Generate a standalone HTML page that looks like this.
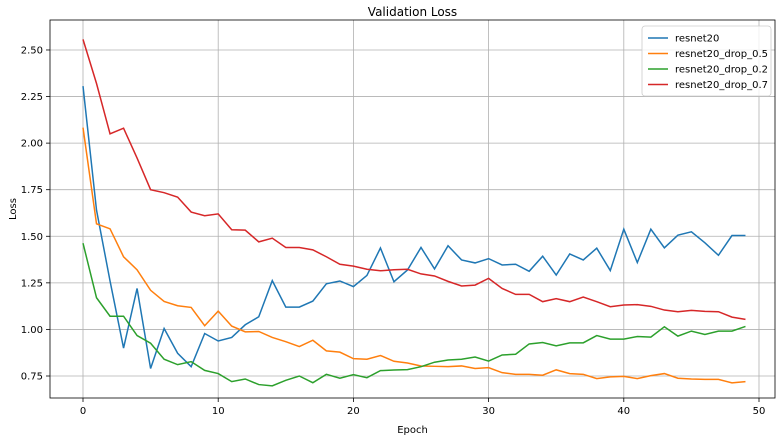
<!DOCTYPE html>
<html><head><meta charset="utf-8"><style>
body{margin:0;background:#fff;}
svg{display:block;font-family:"DejaVu Sans","Liberation Sans",sans-serif;}
</style></head><body>
<svg id="chart" width="783" height="441"></svg>
<script>
const epochs = Array.from({length:50},(_,i)=>i);
const resnet20 = [2.306,1.64,1.26,0.90,1.22,0.79,1.005,0.872,0.80,0.978,0.938,0.957,1.025,1.068,1.262,1.12,1.12,1.152,1.245,1.26,1.23,1.29,1.437,1.256,1.319,1.44,1.325,1.449,1.373,1.357,1.38,1.346,1.35,1.312,1.393,1.292,1.405,1.373,1.436,1.316,1.538,1.359,1.538,1.438,1.506,1.524,1.465,1.398,1.504,1.504];
const drop05 = [2.083,1.567,1.54,1.39,1.32,1.21,1.15,1.127,1.118,1.02,1.098,1.018,0.987,0.989,0.957,0.934,0.908,0.942,0.885,0.878,0.843,0.84,0.86,0.829,0.82,0.804,0.802,0.80,0.804,0.79,0.795,0.768,0.759,0.759,0.754,0.783,0.763,0.759,0.736,0.745,0.748,0.736,0.752,0.763,0.738,0.734,0.732,0.732,0.713,0.72];
const drop02 = [1.463,1.17,1.071,1.071,0.967,0.926,0.84,0.811,0.827,0.78,0.763,0.72,0.734,0.704,0.697,0.727,0.75,0.714,0.759,0.738,0.757,0.741,0.779,0.782,0.784,0.80,0.824,0.836,0.84,0.852,0.83,0.863,0.867,0.922,0.93,0.912,0.928,0.928,0.967,0.948,0.948,0.962,0.959,1.014,0.964,0.991,0.973,0.991,0.991,1.016];
const drop07 = [2.557,2.32,2.05,2.08,1.92,1.75,1.734,1.71,1.63,1.61,1.62,1.535,1.533,1.47,1.49,1.44,1.44,1.427,1.39,1.35,1.34,1.323,1.315,1.32,1.323,1.298,1.287,1.258,1.233,1.238,1.274,1.22,1.188,1.188,1.149,1.165,1.149,1.174,1.149,1.122,1.131,1.133,1.124,1.104,1.095,1.102,1.097,1.095,1.066,1.054];
const xTicks = [0,10,20,30,40,50];
const yTicks = [0.75,1.00,1.25,1.50,1.75,2.00,2.25,2.50];
const seriesNames = ["resnet20","resnet20_drop_0.5","resnet20_drop_0.2","resnet20_drop_0.7"];
const seriesColors = ["#1f77b4","#ff7f0e","#2ca02c","#d62728"];

const svg = document.getElementById('chart');
const NS='http://www.w3.org/2000/svg';
const L=50,R=775,T=20,B=398;
const xs = v => 83 + v*13.52;
const ys = v => 376 - (v-0.75)*186.3;
function mk(tag, attrs, parent){const e=document.createElementNS(NS,tag);for(const k in attrs)e.setAttribute(k,attrs[k]);(parent||svg).appendChild(e);return e;}

xTicks.forEach(t=>{
  const g=mk('g',{});
  
  
  mk('line',{x1:xs(t),x2:xs(t),y1:T,y2:B,stroke:'#b0b0b0','stroke-width':0.8},g);
  mk('line',{x1:xs(t),x2:xs(t),y1:B,y2:B+4,stroke:'#000','stroke-width':0.8},g);
  const tx=mk('text',{x:xs(t),y:B+16,'text-anchor':'middle','font-size':10},g);tx.textContent=t;
});
yTicks.forEach(t=>{
  const g=mk('g',{});
  
  
  mk('line',{x1:L,x2:R,y1:ys(t),y2:ys(t),stroke:'#b0b0b0','stroke-width':0.8},g);
  mk('line',{x1:L-4,x2:L,y1:ys(t),y2:ys(t),stroke:'#000','stroke-width':0.8},g);
  const tx=mk('text',{x:L-7,y:ys(t)+3.5,'text-anchor':'end','font-size':10},g);tx.textContent=t.toFixed(2);
});
[resnet20,drop05,drop02,drop07].forEach((data,i)=>{
  const p=mk('polyline',{points:data.map((v,j)=>xs(epochs[j])+','+ys(v)).join(' '),fill:'none',stroke:seriesColors[i],'stroke-width':1.5});
  
  
});
const frame=mk('rect',{x:L,y:T,width:R-L,height:B-T,fill:'none',stroke:'#000','stroke-width':0.8});


const title=mk('text',{x:(L+R)/2,y:16,'text-anchor':'middle','font-size':12});
title.textContent='Validation Loss';


const xl=mk('text',{x:(L+R)/2,y:433,'text-anchor':'middle','font-size':10});
xl.textContent='Epoch';


const yl=mk('text',{x:0,y:0,'text-anchor':'middle','font-size':10,transform:'translate(16,209) rotate(-90)'});
yl.textContent='Loss';


const lg=mk('g',{});


mk('rect',{x:642,y:26,width:129,height:70,rx:3,fill:'#fff','fill-opacity':0.8,stroke:'#ccc','stroke-width':0.8},lg);
seriesNames.forEach((n,i)=>{
  const e=mk('g',{},lg);
  
  
  const y=38+i*15.5;
  mk('line',{x1:648,x2:668,y1:y,y2:y,stroke:seriesColors[i],'stroke-width':1.5},e);
  const t=mk('text',{x:675,y:y+3.5,'font-size':10},e);t.textContent=n;
});
</script>
</body></html>
